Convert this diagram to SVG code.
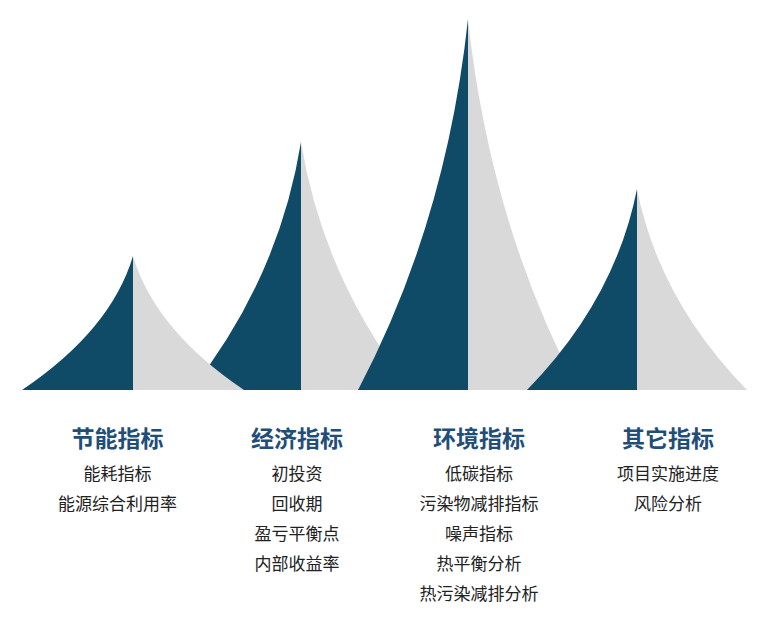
<svg xmlns="http://www.w3.org/2000/svg" width="782" height="630" viewBox="0 0 782 630">
<style>
.dark{fill:#0f4b66}
.gray{fill:#d9d9d9}
.title{font-family:"Noto Sans CJK SC","Microsoft YaHei",sans-serif;font-size:23px;font-weight:bold;fill:#1f4e79;text-anchor:middle}
.item{font-family:"Noto Sans CJK SC","Microsoft YaHei",sans-serif;font-size:17px;fill:#222;text-anchor:middle}
</style>
<rect width="782" height="630" fill="#ffffff"/>
<g id="peaks">
<g id="peak2">
<path class="dark" d="M191,390 Q279,278 301,142 L301,390 Z"/>
<path class="gray" d="M301,142 Q323,278 411,390 L301,390 Z"/>
</g>
<g id="peak1">
<path class="dark" d="M22,390 Q111,330 133,256 L133,390 Z"/>
<path class="gray" d="M133,256 Q155,330 244,390 L133,390 Z"/>
</g>
<g id="peak3">
<path class="dark" d="M358,390 Q446,223 468,19 L468,390 Z"/>
<path class="gray" d="M468,19 Q490,223 578,390 L468,390 Z"/>
</g>
<g id="peak4">
<path class="dark" d="M527,390 Q615,300 637,189 L637,390 Z"/>
<path class="gray" d="M637,189 Q659,300 747,390 L637,390 Z"/>
</g>
</g>
<g id="col1">
<text class="title" x="117.5" y="446.5">节能指标</text>
<text class="item" x="117.5" y="480">能耗指标</text>
<text class="item" x="117.5" y="510">能源综合利用率</text>
</g>
<g id="col2">
<text class="title" x="297" y="446.5">经济指标</text>
<text class="item" x="297" y="480">初投资</text>
<text class="item" x="297" y="510">回收期</text>
<text class="item" x="297" y="540">盈亏平衡点</text>
<text class="item" x="297" y="570">内部收益率</text>
</g>
<g id="col3">
<text class="title" x="479" y="446.5">环境指标</text>
<text class="item" x="479" y="480">低碳指标</text>
<text class="item" x="479" y="510">污染物减排指标</text>
<text class="item" x="479" y="540">噪声指标</text>
<text class="item" x="479" y="570">热平衡分析</text>
<text class="item" x="479" y="600">热污染减排分析</text>
</g>
<g id="col4">
<text class="title" x="668" y="446.5">其它指标</text>
<text class="item" x="668" y="480">项目实施进度</text>
<text class="item" x="668" y="510">风险分析</text>
</g>
<g id="connectors"/>
</svg>
